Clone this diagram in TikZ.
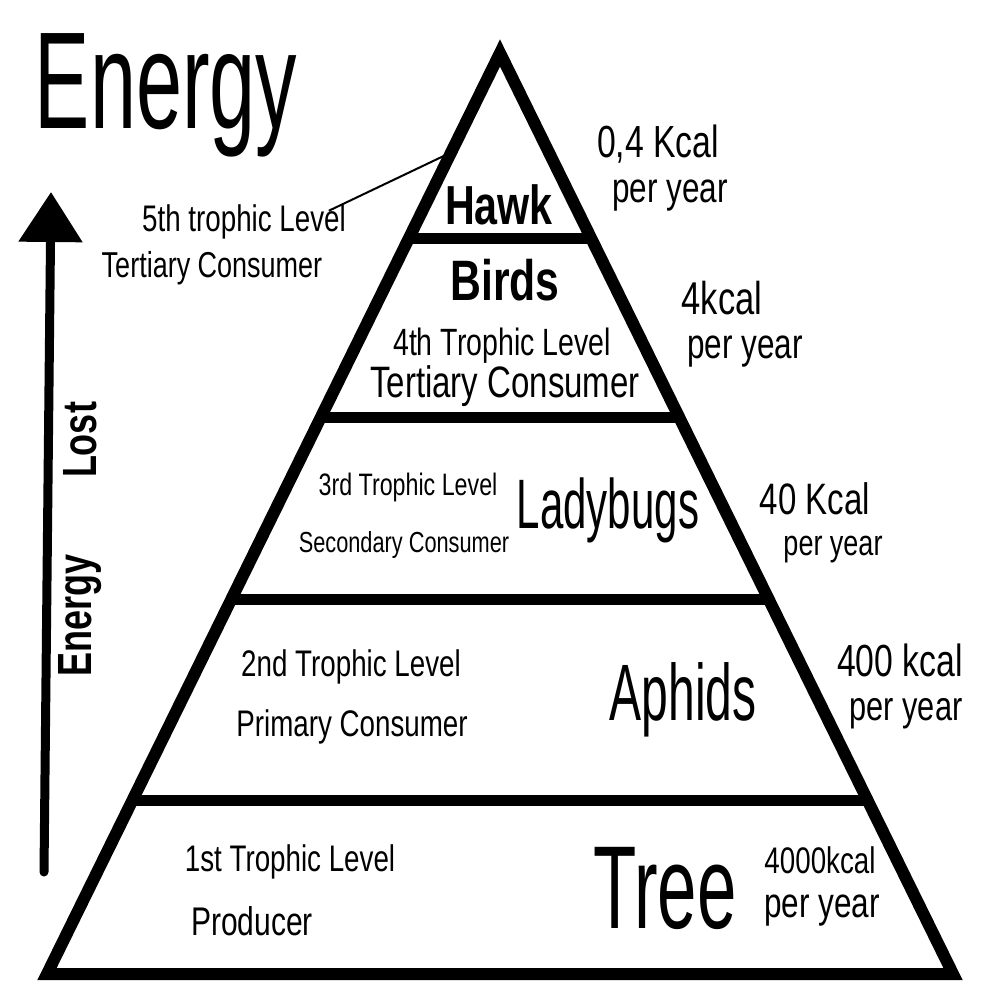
\documentclass[tikz,border=0pt]{standalone}
\usepackage{fontspec}
\setmainfont{Liberation Sans}
\newfontfamily\hand[FakeStretch=0.75]{Liberation Sans}
\newfontfamily\handn[FakeStretch=0.6]{Liberation Sans}
\usetikzlibrary{arrows.meta,calc}
\newcommand{\fsz}[1]{\fontsize{#1}{#1}\selectfont}
\begin{document}
\begin{tikzpicture}[x=1pt,y=-1pt,
  lbl/.style={inner sep=0pt, outer sep=0pt, anchor=center, text=black},
  edge/.style={line width=12pt, line join=miter, draw=black},
  bar/.style={line width=11pt, draw=black},
  arrowline/.style={line width=9pt, line cap=round, draw=black},
  leader/.style={line width=2pt, draw=black}]
\useasboundingbox[fill=white] (0,0) rectangle (1000,1000);

% pyramid
\coordinate (A) at (500,53);
\coordinate (BL) at (47,974);
\coordinate (BR) at (953,974);
\draw[edge] (A) -- (BR) -- (BL) -- cycle;
\foreach \t/\n in {0.2009/b1,0.3963/b2,0.5939/b3,0.8111/b4}{
  \coordinate (\n L) at ($(A)!\t!(BL)$);
  \coordinate (\n R) at ($(A)!\t!(BR)$);
  \draw[bar] (\n L) -- (\n R);
}

% title
\node[lbl, font={\handn\fsz{138}}] (title) at (166,95) {Energy};

% energy arrow
\coordinate (arrbot) at (44,872);
\coordinate (arrtop) at (51,192);
\draw[arrowline, -{Triangle[length=50pt,width=62pt]}] (arrbot) -- (arrtop);
\node[lbl, rotate=90, font={\hand\bfseries\fsz{48}}] (elost1) at (80,615) {Energy};
\node[lbl, rotate=90, font={\hand\bfseries\fsz{48}}] (elost2) at (80,440) {Lost};

% level 5
\node[lbl, font={\hand\bfseries\fsz{55}}] (hawk) at (499,205) {Hawk};
\node[lbl, font={\hand\fsz{37}}] (l5a) at (244,222) {5th trophic Level};
\node[lbl, font={\hand\fsz{36}}] (l5b) at (212,268) {Tertiary Consumer};
\coordinate (lead) at ($(A)!0.108!(BL)$);
\draw[leader] (lead) -- ([xshift=-17pt,yshift=-6pt]l5a.north east);
\node[lbl, font={\hand\fsz{45}}] (k5a) at (658,144) {0,4 Kcal};
\node[lbl, font={\hand\fsz{42}}] (k5b) at (670,196) {per year};

% level 4
\node[lbl, font={\hand\bfseries\fsz{57}}] (birds) at (505,280) {Birds};
\node[lbl, font={\hand\fsz{38}}] (l4a) at (502,346) {4th Trophic Level};
\node[lbl, font={\hand\fsz{44}}] (l4b) at (505,386) {Tertiary Consumer};
\node[lbl, font={\hand\fsz{46}}] (k4a) at (722,298) {4kcal};
\node[lbl, font={\hand\fsz{42}}] (k4b) at (745,352) {per year};

% level 3
\node[lbl, font={\hand\fsz{31}}] (l3a) at (408,487) {3rd Trophic Level};
\node[lbl, font={\hand\fsz{29}}] (l3b) at (404,545) {Secondary Consumer};
\node[lbl, font={\handn\fsz{70}}] (lady) at (608,510) {Ladybugs};
\node[lbl, font={\hand\fsz{44}}] (k3a) at (815,499) {40 Kcal};
\node[lbl, font={\hand\fsz{36}}] (k3b) at (833,550) {per year};

% level 2
\node[lbl, font={\hand\fsz{37}}] (l2a) at (351,667) {2nd Trophic Level};
\node[lbl, font={\hand\fsz{37}}] (l2b) at (352,727) {Primary Consumer};
\node[lbl, font={\handn\fsz{80}}] (aphids) at (683,700) {Aphids};
\node[lbl, font={\hand\fsz{45}}] (k2a) at (900,660) {400 kcal};
\node[lbl, font={\hand\fsz{41}}] (k2b) at (906,714) {per year};

% level 1
\node[lbl, font={\hand\fsz{37}}] (l1a) at (290,862) {1st Trophic Level};
\node[lbl, font={\hand\fsz{40}}] (l1b) at (252,921) {Producer};
\node[lbl, font={\handn\fsz{118}}] (tree) at (665,888) {Tree};
\node[lbl, font={\hand\fsz{37}}] (k1a) at (820,860) {4000kcal};
\node[lbl, font={\hand\fsz{42}}] (k1b) at (822,911) {per year};
\end{tikzpicture}
\end{document}
